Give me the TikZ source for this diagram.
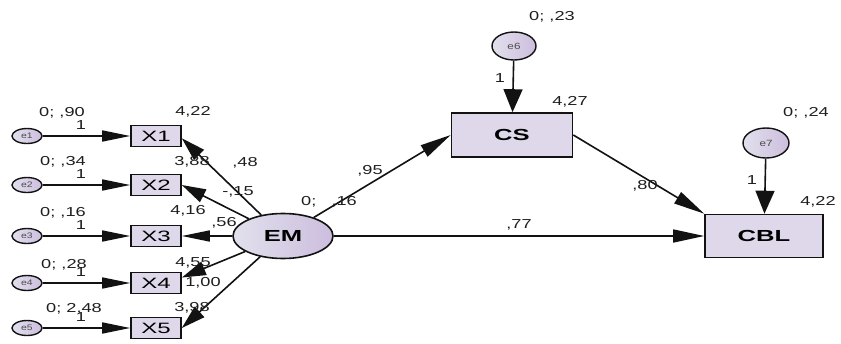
\documentclass[tikz,border=0pt]{standalone}
\usepackage{fontspec}
\setmainfont{Liberation Sans}
\newfontfamily\lblfont[FakeStretch=1.4]{Liberation Sans}
\newfontfamily\varfont[FakeStretch=1.6]{Liberation Sans}
\newfontfamily\tinyfont[FakeStretch=1.3]{Liberation Sans}
\usetikzlibrary{arrows.meta,shapes.geometric}

\definecolor{boxfill}{RGB}{222,216,234}
\definecolor{ovalleft}{RGB}{226,224,236}
\definecolor{ovalright}{RGB}{204,190,222}
\definecolor{linecol}{RGB}{18,18,18}
\definecolor{lblcol}{RGB}{30,30,30}

\begin{document}
\begin{tikzpicture}[x=1pt,y=-1pt,
  obs/.style={draw=linecol, line width=1.6pt, fill=boxfill, rectangle,
    minimum width=50pt, minimum height=21pt, inner sep=0pt,
    font=\varfont\fontsize{15}{15}\selectfont},
  bigobs/.style={draw=linecol, line width=1.6pt, fill=boxfill, rectangle,
    inner sep=0pt, font=\varfont\bfseries\fontsize{16}{16}\selectfont},
  err/.style={draw=linecol, line width=1.4pt, ellipse, inner sep=0pt,
    left color=ovalleft, right color=ovalright,
    minimum width=30pt, minimum height=15pt,
    font=\tinyfont\fontsize{8}{8}\selectfont, text=black!70},
  bigerr/.style={err, minimum width=44pt, minimum height=28pt,
    font=\tinyfont\fontsize{9}{9}\selectfont},
  latent/.style={draw=linecol, line width=1.6pt, ellipse, inner sep=0pt,
    left color=ovalleft, right color=ovalright,
    minimum width=100pt, minimum height=45pt,
    font=\varfont\bfseries\fontsize{16}{16}\selectfont},
  lbl/.style={font=\lblfont\fontsize{13}{13}\selectfont, text=lblcol, inner sep=0pt},
  path/.style={draw=linecol, line width=1.6pt},
  harr/.style={path, -{Triangle[length=28pt,width=11pt]}},
  darr/.style={path, -{Triangle[length=24pt,width=14pt]}},
  varr/.style={path, -{Triangle[length=23pt,width=19pt]}},
  larr/.style={path, -{Triangle[length=31pt,width=13pt]}}
]
\useasboundingbox (0,0) rectangle (841,343);

% indicators and their error terms
\foreach \i/\y/\e in {1/136/e1, 2/185/e2, 3/236/e3, 4/283/e4, 5/328/e5}{
  \node[obs] (X\i) at (156,\y) {X\i};
  \node[err] (e\i) at (27,\y) {\e};
  \draw[harr] (e\i) -- (X\i);
  \node[lbl] (one\i) at (81,\y-11) {1};
}

% latent factor
\node[latent] (EM) at (283,236) {EM};

% structural part
\node[bigobs, minimum width=121pt, minimum height=44pt] (CS) at (512,135) {CS};
\node[bigobs, minimum width=118pt, minimum height=43pt] (CBL) at (764,236) {CBL};
\node[bigerr] (e6) at (514,46) {e6};
\node[bigerr, minimum width=46pt, minimum height=30pt] (e7) at (766,143) {e7};

% loadings
\draw[darr] (EM) -- (X1.-5);
\draw[darr] (EM) -- (X2.east);
\draw[harr] (EM) -- (X3.east);
\draw[darr] (EM) -- (X4.12);
\draw[darr] (EM) -- (X5.east);

% regressions
\draw[larr] (EM) -- (CS.west);
\draw[larr] (EM) -- (CBL.west);
\draw[larr] (CS.east) -- (CBL.north west);
\draw[varr] (e6) -- (CS);
\draw[varr] (e7) -- (CBL);

% variances and intercepts
\node[lbl] (v1) at (62,113) {0; ,90};
\node[lbl] (v2) at (63,162) {0; ,34};
\node[lbl] (v3) at (63,213) {0; ,16};
\node[lbl] (v4) at (64,265) {0; ,28};
\node[lbl] (v5) at (74,309) {0; 2,48};
\node[lbl] (m1) at (193,112) {4,22};
\node[lbl] (m2) at (192,162) {3,88};
\node[lbl] (m3) at (188,211) {4,16};
\node[lbl] (m4) at (193,263) {4,55};
\node[lbl] (m5) at (192,308) {3,98};

% loading estimates
\node[lbl] (w1) at (245,163) {,48};
\node[lbl] (w2) at (238,192) {-,15};
\node[lbl] (w3) at (224,223) {,56};
\node[lbl] (w4) at (203,283) {1,00};

\node[lbl] (vEM) at (329,202) {0; \ \ ,16};
\node[lbl] (b1) at (370,171) {,95};
\node[lbl] (b2) at (519,225) {,77};
\node[lbl] (b3) at (645,186) {,80};

\node[lbl] (v6) at (552,17) {0; ,23};
\node[lbl] (o6) at (500,78) {1};
\node[lbl] (m6) at (570,102) {4,27};
\node[lbl] (v7) at (806,113) {0; ,24};
\node[lbl] (o7) at (752,180) {1};
\node[lbl] (m7) at (818,202) {4,22};
\end{tikzpicture}
\end{document}
